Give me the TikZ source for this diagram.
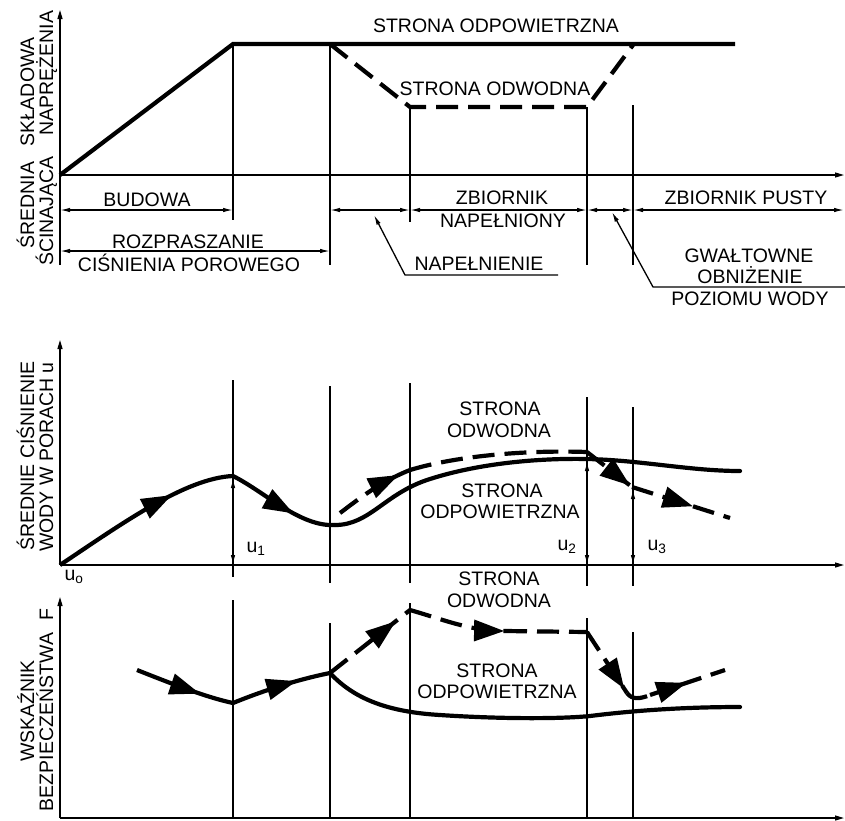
\documentclass[tikz,border=0pt]{standalone}
\usepackage{fontspec}
\setmainfont{Liberation Sans}
\usetikzlibrary{arrows.meta,decorations.markings}
\begin{document}
\begin{tikzpicture}[x=1pt,y=-1pt,
  thinl/.style={line width=1.3pt},
  thickl/.style={line width=4.2pt},
  dashl/.style={line width=4.2pt, dash pattern=on 22pt off 10pt},
  axis/.style={thinl,-{Triangle[length=9pt,width=5pt]}},
  dimarrow/.style={thinl,{Latex[length=10pt,width=4.5pt]}-{Latex[length=10pt,width=4.5pt]}},
  leader/.style={thinl,-{Latex[length=10pt,width=4.5pt]}},
  lbl/.style={font=\fontsize{19.5}{22}\selectfont, inner sep=0pt, anchor=base},
  arrowat/.style={postaction={decorate}, decoration={markings, mark=at position #1 with {\fill[solid] (2pt,0pt) -- (-28pt,11pt) -- (-28pt,-11pt) -- cycle;}}},
]
\useasboundingbox (0,0) rectangle (845,820);
\fill[white] (0,0) rectangle (845,820);

% ---------------- top panel ----------------
\draw[axis] (60,265) -- (60,10);
\draw[axis] (60,175) -- (844,175);
\draw[thinl] (233,44) -- (233,220);
\draw[thinl] (330,44) -- (330,265);
\draw[thinl] (410,107) -- (410,222);
\draw[thinl] (587,107) -- (587,265);
\draw[thinl] (633,105) -- (633,265);
\draw[thickl, line join=miter] (60,175) -- (233,44) -- (735,44);
\draw[dashl] (330,44) -- (410,107) -- (587,107) -- (633,45);

\draw[dimarrow] (60,210) -- (233,210);
\draw[dimarrow] (330,210) -- (410,210);
\draw[dimarrow] (410,210) -- (587,210);
\draw[dimarrow] (587,210) -- (633,210);
\draw[dimarrow] (633,210) -- (844,210);
\draw[dimarrow] (60,251) -- (330,251);
\draw[leader] (558,275) -- (405,275) -- (374,215);
\draw[leader] (845,287) -- (653,287) -- (612,212);

\node[lbl] (sop) at (496,32) {STRONA ODPOWIETRZNA};
\node[lbl] (sod) at (495,95) {STRONA ODWODNA};
\node[lbl] (bud) at (147,206) {BUDOWA};
\node[lbl] (roz) at (188,248) {ROZPRASZANIE};
\node[lbl] (cis) at (189,271) {CIŚNIENIA POROWEGO};
\node[lbl] (zb1) at (502,204) {ZBIORNIK};
\node[lbl] (zb2) at (503,227) {NAPEŁNIONY};
\node[lbl] (zbp) at (746,204) {ZBIORNIK PUSTY};
\node[lbl] (nap) at (479,270) {NAPEŁNIENIE};
\node[lbl] (gw1) at (749,262) {GWAŁTOWNE};
\node[lbl] (gw2) at (750,283) {OBNIŻENIE};
\node[lbl] (gw3) at (750,305) {POZIOMU WODY};

\node[lbl, rotate=90] (ya1) at (34,205) {ŚREDNIA};
\node[lbl, rotate=90] (ya2) at (34,92) {SKŁADOWA};
\node[lbl, rotate=90] (ya3) at (53,211) {ŚCINAJĄCA};
\node[lbl, rotate=90] (ya4) at (53,73) {NAPRĘŻENIA};

% ---------------- middle panel ----------------
\draw[axis] (60,565) -- (60,340);
\draw[axis] (60,565) -- (844,565);
\draw[thinl] (233,380) -- (233,577);
\draw[thinl] (330,386) -- (330,583);
\draw[thinl] (410,383) -- (410,583);
\draw[thinl] (587,397) -- (587,586);
\draw[thinl] (633,407) -- (633,586);

\draw[thickl, arrowat=0.66] (60,565) .. controls (120,525) and (185,478) .. (233,476);
\draw[thickl, arrowat=0.6] (233,476) .. controls (265,492) and (300,527) .. (335,525);
\draw[thickl, line cap=round] (335,525) .. controls (370,525) and (385,493) .. (430,479)
   .. controls (480,463) and (540,458) .. (587,459)
   .. controls (640,460) and (690,471) .. (740,471);

\draw[dashl, arrowat=0.82] (340,513) .. controls (360,498) and (380,482) .. (410,470);
\draw[dashl] (410,470) .. controls (460,455) and (530,450) .. (587,452);
\draw[dashl, arrowat=0.92] (587,452) -- (632,487);
\draw[dashl, arrowat=0.6] (632,487) -- (730,518);

\draw[dimarrow] (233,478) -- (233,565);
\draw[dimarrow] (587,461) -- (587,565);
\draw[dimarrow] (633,489) -- (633,565);

\node[lbl] (u1) at (256,552) {u\textsubscript{1}};
\node[lbl] (u2) at (567,550) {u\textsubscript{2}};
\node[lbl] (u3) at (657,550) {u\textsubscript{3}};
\node[lbl] (u0) at (74,580) {u\textsubscript{o}};

\node[lbl] (ms1) at (500,415) {STRONA};
\node[lbl] (ms2) at (499,437) {ODWODNA};
\node[lbl] (ms3) at (502,497) {STRONA};
\node[lbl] (ms4) at (500,518) {ODPOWIETRZNA};

\node[lbl, rotate=90] (yb1) at (34,456) {ŚREDNIE CIŚNIENIE};
\node[lbl, rotate=90] (yb2) at (53,457) {WODY W PORACH u};

% ---------------- bottom panel ----------------
\draw[axis] (60,818) -- (60,597);
\draw[axis] (60,818) -- (844,818);
\draw[thinl] (233,600) -- (233,818);
\draw[thinl] (330,623) -- (330,818);
\draw[thinl] (410,603) -- (410,818);
\draw[thinl] (587,618) -- (587,818);
\draw[thinl] (633,632) -- (633,818);

\draw[thickl, arrowat=0.64] (137,670) .. controls (170,683) and (205,697) .. (233,703);
\draw[thickl, arrowat=0.64] (233,703) .. controls (260,692) and (295,680) .. (330,673);
\draw[thickl, line cap=round] (330,673) .. controls (355,700) and (390,712) .. (440,715)
   .. controls (500,719) and (560,719) .. (590,716)
   .. controls (630,711) and (680,707) .. (740,707);

\draw[dashl, arrowat=0.8] (330,673) -- (410,610);
\draw[dashl, arrowat=0.97] (410,610) .. controls (445,620) and (470,631) .. (505,631);
\draw[dashl] (505,631) -- (587,632);
\draw[dashl, arrowat=0.9] (587,632) -- (627,693);
\draw[dashl] (627,693) .. controls (632,700) and (640,699) .. (650,695);
\draw[dashl, arrowat=0.46] (650,695) -- (725,670);

\node[lbl] (bs1) at (499,585) {STRONA};
\node[lbl] (bs2) at (499,607) {ODWODNA};
\node[lbl] (bs3) at (497,677) {STRONA};
\node[lbl] (bs4) at (497,698) {ODPOWIETRZNA};

\node[lbl, rotate=90] (yc1) at (34,711) {WSKAŹNIK};
\node[lbl, rotate=90] (yc2) at (53,722) {BEZPIECZEŃSTWA};
\node[lbl, rotate=90] (yc3) at (53,615) {F};
\end{tikzpicture}
\end{document}
